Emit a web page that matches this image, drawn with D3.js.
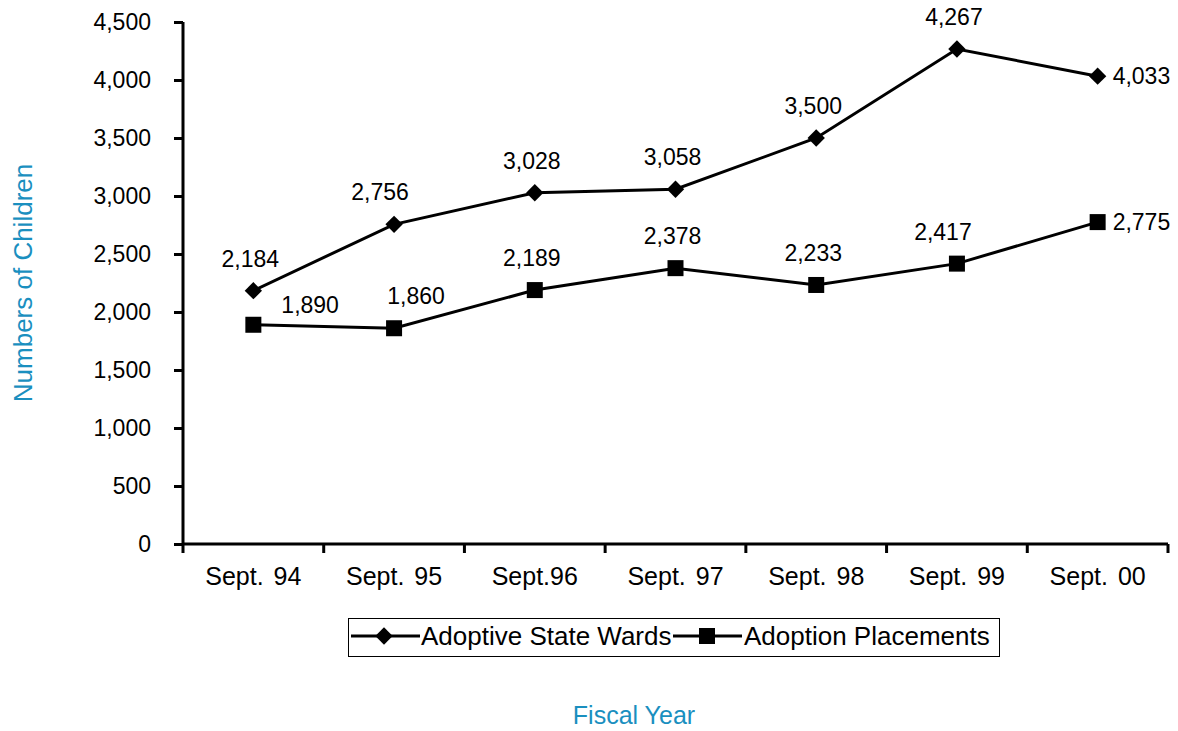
<!DOCTYPE html>
<html><head><meta charset="utf-8">
<script src="https://cdn.jsdelivr.net/npm/d3@7"></script>
<style>body{margin:0;background:#fff;} svg{display:block;font-family:"Liberation Sans",Arial,sans-serif;}</style>
</head><body><svg id="c" width="1178" height="731"></svg>
<script>
const categories = ["Sept. 94","Sept. 95","Sept.96","Sept. 97","Sept. 98","Sept. 99","Sept. 00"];
const wards = [2184, 2756, 3028, 3058, 3500, 4267, 4033];
const placements = [1890, 1860, 2189, 2378, 2233, 2417, 2775];
const yTicks = [0,500,1000,1500,2000,2500,3000,3500,4000,4500];
const seriesNames = ["Adoptive State Wards","Adoption Placements"];
// label placement codes per point
const wardsLabelPos = ["a","a-","a","a","a","a","r"];
const placeLabelPos = ["ar","a+","a","a","a","a-","r"];

const FONT = "Liberation Sans, Arial, sans-serif";
const svg = d3.select("#c");
const L=183, R=1168, T=22, B=544;
const x = d3.scaleBand().domain(categories).range([L,R]);
const y = d3.scaleLinear().domain([0,4500]).range([B,T]);
const fmt = d3.format(",");

// y axis
const ya = svg.append("g").attr("transform",`translate(${L},0)`)
  .call(d3.axisLeft(y).tickValues(yTicks).tickFormat(fmt).tickSize(9).tickPadding(23));
ya.select(".domain").attr("stroke","#000").attr("stroke-width",3).attr("d",`M0,${T}V${B+9}`);
ya.selectAll(".tick line").attr("stroke","#000").attr("stroke-width",3);
ya.selectAll(".tick text").attr("font-size",23).attr("fill","#000").attr("font-family",FONT);

// x axis
const xa = svg.append("g").attr("transform",`translate(0,${B})`)
  .call(d3.axisBottom(x).tickSize(0).tickPadding(23));
xa.select(".domain").attr("stroke","#000").attr("stroke-width",3).attr("d",`M${L},0H${R}`);
xa.selectAll(".tick text").attr("font-size",25).attr("fill","#000").attr("font-family",FONT)
  .attr("word-spacing",3);
// boundary ticks between categories
const bounds = categories.slice(1).map(c=>x(c)).concat([R]);
svg.append("g").selectAll("line").data(bounds).join("line")
  .attr("x1",d=>d).attr("x2",d=>d).attr("y1",B).attr("y2",B+9)
  .attr("stroke","#000").attr("stroke-width",3);

const cx = c => x(c)+x.bandwidth()/2;
const line = d3.line().x((d,i)=>cx(categories[i])).y(d=>y(d));

function drawSeries(vals, marker, pos){
  const g = svg.append("g");
  g.append("path").datum(vals).attr("d",line).attr("fill","none").attr("stroke","#000").attr("stroke-width",3);
  vals.forEach((v,i)=>{
    const px=cx(categories[i]), py=y(v);
    if(marker==="diamond"){
      g.append("path").attr("d",d3.symbol(d3.symbolSquare,150)())
        .attr("transform",`translate(${px},${py}) rotate(45)`).attr("fill","#000");
    } else {
      g.append("rect").attr("x",px-8).attr("y",py-8).attr("width",16).attr("height",16).attr("fill","#000");
    }
    const p=pos[i];
    let tx=px-3, ty=py-24, anchor="middle";
    if(p==="a-"){tx=px-14;}
    if(p==="a+"){tx=px+22;}
    if(p==="r"){tx=px+15; ty=py+8; anchor="start";}
    if(p==="ar"){tx=px+28; ty=py-12; anchor="start";}
    g.append("text").attr("x",tx).attr("y",ty).attr("text-anchor",anchor)
      .attr("font-size",23).attr("fill","#000").text(fmt(v));
  });
}
drawSeries(wards,"diamond",wardsLabelPos);
drawSeries(placements,"square",placeLabelPos);

// legend
const lg = svg.append("g");
lg.append("rect").attr("x",348.5).attr("y",618.5).attr("width",651).attr("height",38).attr("fill","#fff").attr("stroke","#000").attr("stroke-width",1);
const ly=636;
lg.append("line").attr("x1",351).attr("x2",420).attr("y1",ly).attr("y2",ly).attr("stroke","#000").attr("stroke-width",3);
lg.append("path").attr("d",d3.symbol(d3.symbolSquare,150)()).attr("transform",`translate(384,${ly}) rotate(45)`).attr("fill","#000");
lg.append("text").attr("x",421).attr("y",645).attr("font-size",26).text(seriesNames[0]);
lg.append("line").attr("x1",673).attr("x2",742).attr("y1",ly).attr("y2",ly).attr("stroke","#000").attr("stroke-width",3);
lg.append("rect").attr("x",699).attr("y",ly-8).attr("width",16).attr("height",16).attr("fill","#000");
lg.append("text").attr("x",744).attr("y",645).attr("font-size",26).text(seriesNames[1]);

// titles
svg.append("text").attr("transform","translate(32,283) rotate(-90)").attr("text-anchor","middle")
  .attr("font-size",26).attr("fill","#1a8fbf").text("Numbers of Children");
svg.append("text").attr("x",634).attr("y",724).attr("text-anchor","middle")
  .attr("font-size",25).attr("fill","#1a8fbf").text("Fiscal Year");
</script></body></html>
